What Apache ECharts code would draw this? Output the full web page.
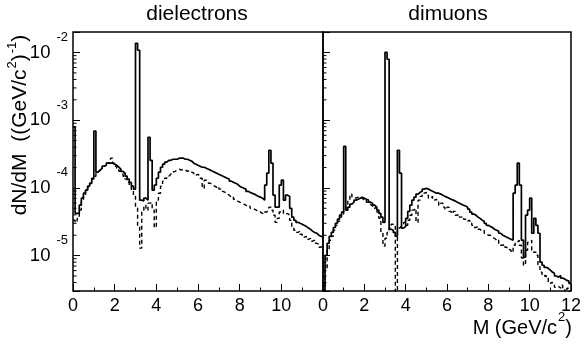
<!DOCTYPE html>
<html><head><meta charset="utf-8">
<script src="https://cdn.jsdelivr.net/npm/echarts@6/dist/echarts.min.js"></script>
<style>html,body{margin:0;padding:0;background:#fff}#c{width:584px;height:345px}</style>
</head><body><div id="c"></div>
<script>
// bin width of the histograms (GeV/c^2); each array = 120 bins from 0 to 12
const binWidth = 0.1;

const eeSolid = [
7.9e-4,4.2e-5,4.2e-5,5.55e-5,7.05e-5,8.35e-5,9.25e-5,1.06e-4,1.17e-4,1.39e-4,
6.9e-4,1.71e-4,1.83e-4,1.95e-4,2.09e-4,2.16e-4,2.32e-4,2.32e-4,2.32e-4,2.24e-4,
2.16e-4,2.02e-4,1.89e-4,1.76e-4,1.65e-4,1.49e-4,1.35e-4,1.21e-4,1.06e-4,9.6e-5,
1.37e-2,1.08e-2,6.6e-5,6.4e-5,7.05e-5,6.6e-5,5.6e-4,2.56e-4,9.25e-5,1.10e-4,
1.39e-4,1.71e-4,2.02e-4,2.24e-4,2.40e-4,2.56e-4,2.56e-4,2.65e-4,2.65e-4,2.65e-4,
2.75e-4,2.75e-4,2.75e-4,2.65e-4,2.65e-4,2.56e-4,2.48e-4,2.32e-4,2.24e-4,2.16e-4,
2.09e-4,2.02e-4,2.02e-4,1.95e-4,1.89e-4,1.83e-4,1.76e-4,1.71e-4,1.65e-4,1.59e-4,
1.54e-4,1.49e-4,1.44e-4,1.39e-4,1.35e-4,1.26e-4,1.21e-4,1.17e-4,1.13e-4,1.06e-4,
1.02e-4,9.9e-5,9.6e-5,8.9e-5,8.6e-5,8.35e-5,8.1e-5,7.8e-5,7.5e-5,7.3e-5,
7.05e-5,6.6e-5,1.10e-4,1.65e-4,3.6e-4,2.32e-4,7.8e-5,5.2e-5,5.2e-5,1.10e-4,
1.30e-4,6.6e-5,7.8e-5,7.5e-5,5.0e-5,3.7e-5,3.33e-5,3.1e-5,3.0e-5,2.91e-5,
2.8e-5,2.7e-5,2.55e-5,2.45e-5,2.3e-5,2.2e-5,2.14e-5,2.0e-5,1.93e-5,1.87e-5];

const eeDashed = [
3.33e-5,3.1e-5,3.55e-5,4.7e-5,6.6e-5,7.8e-5,8.9e-5,1.02e-4,1.17e-4,1.35e-4,
1.49e-4,1.71e-4,1.83e-4,1.95e-4,2.09e-4,2.16e-4,2.32e-4,2.48e-4,2.75e-4,2.32e-4,
2.09e-4,1.95e-4,1.76e-4,1.65e-4,1.49e-4,1.35e-4,1.21e-4,1.06e-4,9.25e-5,7.8e-5,
5.0e-5,2.8e-5,1.29e-5,4.4e-5,5.55e-5,4.7e-5,5.95e-5,6.15e-5,4.7e-5,2.6e-5,
6.6e-5,8.35e-5,1.06e-4,1.26e-4,1.39e-4,1.49e-4,1.59e-4,1.71e-4,1.76e-4,1.83e-4,
1.89e-4,1.83e-4,1.89e-4,1.83e-4,1.76e-4,1.83e-4,1.71e-4,1.65e-4,1.54e-4,1.59e-4,
1.49e-4,1.39e-4,9.9e-5,1.30e-4,1.26e-4,1.17e-4,1.13e-4,1.06e-4,1.02e-4,1.06e-4,
9.6e-5,8.9e-5,8.6e-5,8.1e-5,7.8e-5,7.3e-5,7.5e-5,6.8e-5,6.4e-5,6.15e-5,
5.95e-5,5.75e-5,5.55e-5,5.2e-5,5.4e-5,5.0e-5,4.85e-5,4.7e-5,4.4e-5,4.4e-5,
4.2e-5,4.1e-5,4.4e-5,4.7e-5,5.2e-5,4.7e-5,3.95e-5,3.1e-5,3.55e-5,4.4e-5,
4.7e-5,4.1e-5,4.2e-5,3.95e-5,3.33e-5,2.7e-5,2.37e-5,2.2e-5,2.3e-5,2.07e-5,
1.87e-5,1.93e-5,1.74e-5,1.8e-5,1.63e-5,1.69e-5,1.52e-5,1.47e-5,1.33e-5,1.38e-5];

const mmSolid = [
3.1e-6,1.01e-5,1.52e-5,1.93e-5,2.2e-5,2.6e-5,3.0e-5,3.45e-5,3.95e-5,4.4e-5,
4.1e-4,4.7e-5,5.2e-5,5.75e-5,6.15e-5,6.6e-5,6.8e-5,7.05e-5,7.3e-5,7.05e-5,
6.8e-5,6.6e-5,6.15e-5,5.95e-5,5.55e-5,5.2e-5,4.7e-5,4.2e-5,3.7e-5,3.1e-5,
1.01e-2,7.96e-3,2.45e-5,2.37e-5,2.2e-5,1.93e-5,3.6e-4,1.65e-4,2.55e-5,2.7e-5,
3.55e-5,4.5e-5,5.55e-5,6.6e-5,7.3e-5,8.1e-5,8.6e-5,8.9e-5,9.6e-5,9.9e-5,
9.6e-5,9.25e-5,8.9e-5,8.6e-5,8.35e-5,8.35e-5,8.1e-5,7.8e-5,7.5e-5,7.3e-5,
7.05e-5,6.8e-5,6.6e-5,6.4e-5,6.15e-5,5.95e-5,5.75e-5,5.55e-5,5.4e-5,5.2e-5,
4.85e-5,4.4e-5,4.1e-5,3.95e-5,3.7e-5,3.55e-5,3.33e-5,3.22e-5,3.0e-5,2.8e-5,
2.7e-5,2.6e-5,2.45e-5,2.37e-5,2.3e-5,2.14e-5,2.0e-5,1.93e-5,1.87e-5,1.8e-5,
1.74e-5,1.69e-5,8.35e-5,1.10e-4,2.32e-4,1.10e-4,1.69e-5,9.5e-6,3.95e-5,4.7e-5,
7.05e-5,2.14e-5,3.55e-5,2.8e-5,2.14e-5,8.0e-6,7.2e-6,6.7e-6,6.5e-6,6.1e-6,
5.7e-6,5.5e-6,5.0e-6,4.8e-6,5.1e-6,4.65e-6,4.5e-6,4.3e-6,4.2e-6,3.9e-6];

const mmDashed = [
2.9e-6,6.5e-6,1.2e-5,1.69e-5,1.93e-5,2.37e-5,2.8e-5,3.22e-5,3.7e-5,4.1e-5,
4.5e-5,5.2e-5,6.6e-5,8.1e-5,7.3e-5,7.05e-5,7.3e-5,7.5e-5,7.05e-5,6.6e-5,
6.8e-5,6.15e-5,5.75e-5,5.4e-5,5.0e-5,5.2e-5,4.4e-5,3.55e-5,2.2e-5,1.38e-5,
1.8e-5,2.2e-5,2.55e-5,2.91e-5,2.7e-5,1e-6,2.55e-5,2.7e-5,2.8e-5,3.1e-5,
2.8e-5,3.33e-5,3.95e-5,4.7e-5,5.0e-5,3.1e-5,6.6e-5,7.5e-5,8.35e-5,8.6e-5,
7.8e-5,7.05e-5,7.5e-5,6.6e-5,6.8e-5,6.15e-5,5.55e-5,5.95e-5,5.2e-5,4.85e-5,
5.2e-5,4.5e-5,4.2e-5,4.5e-5,3.95e-5,4.1e-5,3.7e-5,3.8e-5,3.45e-5,3.22e-5,
3.33e-5,3.0e-5,2.8e-5,2.6e-5,2.7e-5,2.45e-5,2.3e-5,2.37e-5,2.14e-5,2.0e-5,
2.0e-5,1.87e-5,1.8e-5,1.69e-5,1.74e-5,1.52e-5,1.42e-5,1.47e-5,1.33e-5,1.24e-5,
1.2e-5,1.12e-5,1.42e-5,1.58e-5,1.69e-5,1.42e-5,9.2e-6,7.2e-6,1.2e-5,1.58e-5,
1.69e-5,1.2e-5,1.12e-5,1.01e-5,7.2e-6,5.7e-6,5.0e-6,5.1e-6,4.65e-6,3.9e-6,
4.05e-6,3.66e-6,3.4e-6,3.5e-6,3.3e-6,3.66e-6,3.2e-6,2.88e-6,3.3e-6,2.98e-6];

// minor tick positions on the log axes
const yMinorTicks = [4e-6,5e-6,6e-6,7e-6,8e-6,9e-6,
  2e-5,3e-5,4e-5,5e-5,6e-5,7e-5,8e-5,9e-5,
  2e-4,3e-4,4e-4,5e-4,6e-4,7e-4,8e-4,9e-4,
  2e-3,3e-3,4e-3,5e-3,6e-3,7e-3,8e-3,9e-3];

const panelTitles = ['dielectrons', 'dimuons'];
const FONT = 'Liberation Sans, Arial, Helvetica, sans-serif';

function toSteps(vals) {
  const pts = vals.map((v, i) => [+(i * binWidth).toFixed(2), v]);
  pts.push([+(vals.length * binWidth).toFixed(2), vals[vals.length - 1]]);
  return pts;
}

const chart = echarts.init(document.getElementById('c'), null, {renderer: 'canvas'});

function xAxisDef(idx) {
  return {
    gridIndex: idx, type: 'value', min: 0, max: 12, interval: 2,
    axisLine: {show: false},
    axisTick: {inside: true, length: 7, lineStyle: {color: '#000', width: 1}},
    minorTick: {show: true, splitNumber: 2, length: 3.5, lineStyle: {color: '#000', width: 1}},
    splitLine: {show: false},
    axisLabel: {fontSize: 18, color: '#000', fontFamily: FONT, margin: 6,
      formatter: v => (idx === 0 && v === 12) ? '' : String(v)}
  };
}
function yAxisDef(idx) {
  return {
    gridIndex: idx, type: 'log', logBase: 10, min: 3e-6, max: 2.01e-2,
    axisLine: {show: false},
    axisTick: {inside: true, length: 7, lineStyle: {color: '#000', width: 1}},
    splitLine: {show: false},
    axisLabel: {
      show: idx === 0, margin: 5, color: '#000', fontFamily: FONT,
      formatter: function (v) {
        const l = Math.log10(v);
        const e = Math.round(l);
        if (Math.abs(l - e) > 1e-6) return '';
        return '{b|10}{e|' + e + '}';
      },
      rich: {
        b: {fontSize: 18.5, fontFamily: FONT, color: '#000'},
        e: {fontSize: 13, fontFamily: FONT, color: '#000', padding: [0, 0, 30, 6]}
      }
    }
  };
}
function minorTickSeries(idx) {
  return {
    type: 'custom', xAxisIndex: idx, yAxisIndex: idx, silent: true, clip: false, z: 5,
    data: yMinorTicks.map(v => [0, v]),
    renderItem: function (params, api) {
      const p = api.coord([api.value(0), api.value(1)]);
      return {type: 'line', shape: {x1: p[0], y1: p[1], x2: p[0] + 3.5, y2: p[1]},
        style: {stroke: '#000', lineWidth: 1}};
    }
  };
}
function histSeries(idx, vals, dashed) {
  return {
    type: 'line', xAxisIndex: idx, yAxisIndex: idx, data: toSteps(vals), step: 'end',
    showSymbol: false, symbol: 'none', clip: true, silent: true,
    lineStyle: dashed ? {color: '#000', width: 1.4, type: [4, 3]} : {color: '#000', width: 1.7}
  };
}

const option = {
  animation: false,
  backgroundColor: '#fff',
  grid: [
    {left: 73, top: 32, width: 250, height: 259, show: true, borderColor: '#000', borderWidth: 1.5, backgroundColor: 'transparent'},
    {left: 323, top: 32, width: 250, height: 259, show: true, borderColor: '#000', borderWidth: 1.5, backgroundColor: 'transparent'}
  ],
  xAxis: [xAxisDef(0), xAxisDef(1)],
  yAxis: [yAxisDef(0), yAxisDef(1)],
  series: [
    histSeries(0, eeDashed, true),
    histSeries(0, eeSolid, false),
    histSeries(1, mmDashed, true),
    histSeries(1, mmSolid, false),
    minorTickSeries(0),
    minorTickSeries(1)
  ],
  graphic: [
    {type: 'text', x: 197, y: 14, style: {text: panelTitles[0], fontSize: 21, fontFamily: FONT, fill: '#000', align: 'center', verticalAlign: 'middle', textAlign: 'center', textVerticalAlign: 'middle'}},
    {type: 'text', x: 448, y: 14, style: {text: panelTitles[1], fontSize: 21, fontFamily: FONT, fill: '#000', align: 'center', verticalAlign: 'middle', textAlign: 'center', textVerticalAlign: 'middle'}},
    {type: 'text', x: 20, y: 125, rotation: Math.PI / 2,
      style: {text: '{m|dN/dM  ((GeV/c}{s|2}{m|)}{s|-1}{m|)}', fill: '#000', align: 'center', verticalAlign: 'middle', textAlign: 'center', textVerticalAlign: 'middle',
        rich: {m: {fontSize: 21, fontFamily: FONT, fill: '#000', color: '#000'},
               s: {fontSize: 13, fontFamily: FONT, fill: '#000', color: '#000', padding: [0, 0, 16, 1]}}}},
    {type: 'text', x: 572, y: 328,
      style: {text: '{m|M (GeV/c}{s|2}{m|)}', fill: '#000', align: 'right', verticalAlign: 'middle', textAlign: 'right', textVerticalAlign: 'middle',
        rich: {m: {fontSize: 20, fontFamily: FONT, fill: '#000', color: '#000'},
               s: {fontSize: 13, fontFamily: FONT, fill: '#000', color: '#000', padding: [0, 0, 22, 1]}}}}
  ]
};
chart.setOption(option);
</script>
</body></html>
